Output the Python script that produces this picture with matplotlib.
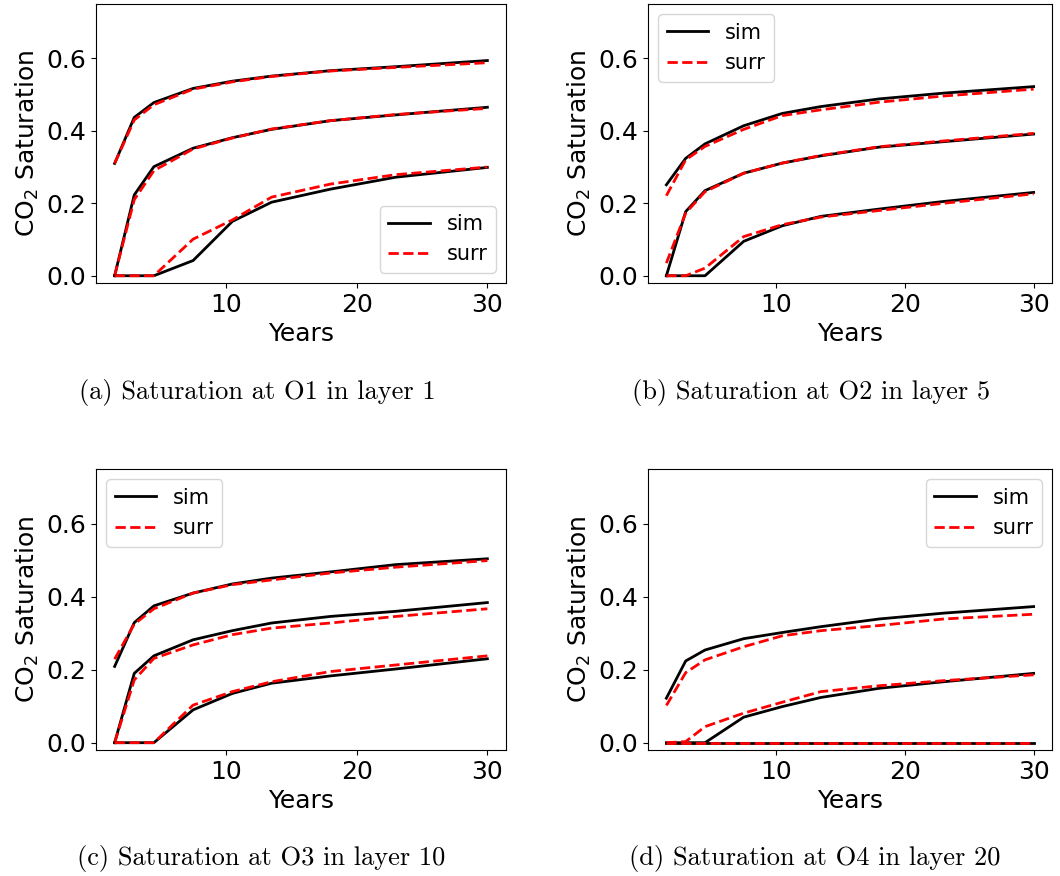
import numpy as np
import matplotlib
matplotlib.use("Agg")
import matplotlib.pyplot as plt

# time axis (years)
YEARS = [1.5, 3, 4.5, 7.5, 10.5, 13.5, 18, 23, 30]

# (a) O1, layer 1
A_SIM = [
    [0.31, 0.437, 0.478, 0.517, 0.537, 0.551, 0.566, 0.577, 0.594],
    [0.0, 0.223, 0.301, 0.352, 0.381, 0.404, 0.428, 0.444, 0.465],
    [0.0, 0.0, 0.0, 0.042, 0.150, 0.203, 0.239, 0.272, 0.299],
]
A_SURR = [
    [0.31, 0.430, 0.472, 0.515, 0.535, 0.550, 0.565, 0.575, 0.588],
    [0.0, 0.210, 0.290, 0.350, 0.380, 0.405, 0.428, 0.445, 0.462],
    [0.0, 0.0, 0.0, 0.101, 0.154, 0.217, 0.253, 0.279, 0.300],
]
# (b) O2, layer 5
B_SIM = [
    [0.251, 0.324, 0.364, 0.414, 0.448, 0.467, 0.488, 0.504, 0.522],
    [0.0, 0.177, 0.235, 0.283, 0.311, 0.331, 0.355, 0.370, 0.391],
    [0.0, 0.0, 0.0, 0.095, 0.138, 0.164, 0.184, 0.205, 0.230],
]
B_SURR = [
    [0.221, 0.320, 0.357, 0.404, 0.442, 0.458, 0.479, 0.496, 0.515],
    [0.035, 0.173, 0.232, 0.283, 0.311, 0.332, 0.356, 0.372, 0.393],
    [0.0, 0.0, 0.021, 0.108, 0.141, 0.162, 0.180, 0.200, 0.226],
]
# (c) O3, layer 10
C_SIM = [
    [0.209, 0.329, 0.375, 0.410, 0.435, 0.451, 0.468, 0.488, 0.504],
    [0.0, 0.190, 0.238, 0.282, 0.307, 0.328, 0.346, 0.360, 0.384],
    [0.0, 0.0, 0.0, 0.090, 0.135, 0.163, 0.183, 0.202, 0.230],
]
C_SURR = [
    [0.229, 0.325, 0.367, 0.410, 0.433, 0.446, 0.465, 0.481, 0.499],
    [0.0, 0.172, 0.231, 0.268, 0.296, 0.314, 0.328, 0.346, 0.367],
    [0.0, 0.0, 0.0, 0.103, 0.140, 0.167, 0.195, 0.213, 0.238],
]
# (d) O4, layer 20
D_SIM = [
    [0.122, 0.224, 0.254, 0.285, 0.302, 0.318, 0.339, 0.355, 0.373],
    [0.0, 0.0, 0.0, 0.070, 0.099, 0.124, 0.149, 0.167, 0.190],
    [0.0, 0.0, 0.0, 0.0, 0.0, 0.0, 0.0, 0.0, 0.0],
]
D_SURR = [
    [0.102, 0.192, 0.227, 0.263, 0.293, 0.307, 0.321, 0.339, 0.352],
    [0.0, 0.003, 0.044, 0.081, 0.111, 0.140, 0.156, 0.170, 0.186],
    [0.0, 0.0, 0.0, 0.0, 0.0, 0.0, 0.0, 0.0, 0.0],
]

CAPTIONS = [
    "(a) Saturation at O1 in layer 1",
    "(b) Saturation at O2 in layer 5",
    "(c) Saturation at O3 in layer 10",
    "(d) Saturation at O4 in layer 20",
]
LEGEND_LOC = ["lower right", "upper left", "upper left", "upper right"]

W, H = 1060, 876
fig = plt.figure(figsize=(W / 100, H / 100), dpi=100)

# axes boxes in pixels: left, top, right, bottom
boxes = [(96, 4, 506, 283), (648, 4, 1052, 283),
         (96, 469, 506, 750), (648, 469, 1052, 750)]
caption_pos = [(257, 393), (811, 393), (261, 858), (815, 858)]

panels = [(A_SIM, A_SURR), (B_SIM, B_SURR), (C_SIM, C_SURR), (D_SIM, D_SURR)]

for i, (sim, surr) in enumerate(panels):
    l, t, r, b = boxes[i]
    ax = fig.add_axes([l / W, 1 - b / H, (r - l) / W, (b - t) / H])
    for k in range(3):
        ax.plot(YEARS, sim[k], color="black", lw=2,
                label="sim" if k == 0 else None)
        ax.plot(YEARS, surr[k], color="red", lw=2, ls="--",
                label="surr" if k == 0 else None)
    ax.set_ylim(-0.02, 0.75)
    ax.set_yticks([0.0, 0.2, 0.4, 0.6])
    ax.set_xticks([10, 20, 30])
    ax.tick_params(labelsize=18)
    ax.set_xlabel("Years", fontsize=18)
    ax.set_ylabel("CO$_2$ Saturation", fontsize=18)
    ax.legend(loc=LEGEND_LOC[i], fontsize=15, handlelength=2.0)

    cx, cy = caption_pos[i]
    fig.text(cx / W, 1 - cy / H, CAPTIONS[i], family="cmr10",
             fontsize=19, ha="center", va="center")

fig.savefig("out.png", dpi=100)
